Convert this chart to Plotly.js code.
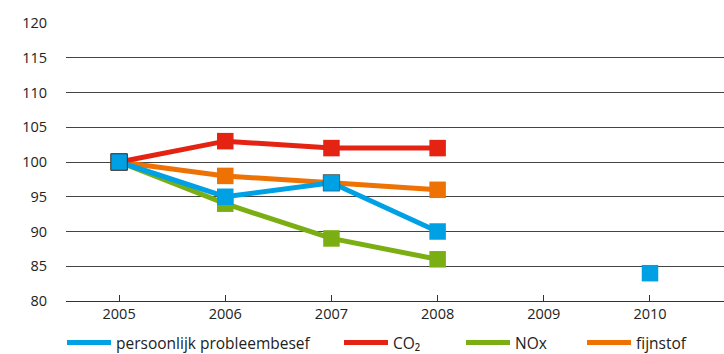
<!DOCTYPE html>
<html>
<head>
<meta charset="utf-8">
<script src="https://cdn.plot.ly/plotly-3.0.1.min.js"></script>
<style>html,body{margin:0;padding:0;background:#fff;}#chart{width:724px;height:354px;}</style>
</head>
<body>
<div id="chart"></div>
<script>
const years = [2005, 2006, 2007, 2008, 2009, 2010];
const seriesNames = ["persoonlijk probleembesef", "CO₂", "NOx", "fijnstof"];
const probleembesef = [100, 95, 97, 90, null, 84];
const co2 = [100, 103, 102, 102, null, null];
const nox = [100, 94, 89, 86, null, null];
const fijnstof = [100, 98, 97, 96, null, null];
const yTicks = [80, 85, 90, 95, 100, 105, 110, 115, 120];

const colors = {blue: "#00a1e4", red: "#e42313", green: "#7aae13", orange: "#ee7203"};

function lineTrace(y, name, color, legendId) {
  return {x: years, y: y, name: name, type: "scatter", mode: "lines", legend: legendId,
    line: {color: color, width: 5}, connectgaps: false, hoverinfo: "skip"};
}
function markerTrace(y, color, outline) {
  return {x: years, y: y, type: "scatter", mode: "markers", showlegend: false,
    marker: {symbol: "square", size: 16.5, color: color,
      line: {color: "#333", width: outline || 0}}, hoverinfo: "skip"};
}

const traces = [
  lineTrace(nox, seriesNames[2], colors.green, "legend3"), markerTrace(nox, colors.green),
  lineTrace(fijnstof, seriesNames[3], colors.orange, "legend4"), markerTrace(fijnstof, colors.orange),
  lineTrace(co2, seriesNames[1], colors.red, "legend2"), markerTrace(co2, colors.red),
  lineTrace(probleembesef, seriesNames[0], colors.blue, "legend"),
  markerTrace(probleembesef, colors.blue, [1, 0, 0.5, 0, 0, 0])
];

const plotW = 658;
function legendAt(px) {
  return {orientation: "h", x: (px - 66) / plotW, xanchor: "left", y: -0.09, yanchor: "top",
    itemwidth: 44,
    font: {size: 15.5, color: "#222"}, bgcolor: "rgba(0,0,0,0)", borderwidth: 0};
}

const layout = {
  width: 724, height: 354,
  margin: {l: 66, r: 0, t: 23, b: 53, autoexpand: false},
  paper_bgcolor: "#fff", plot_bgcolor: "#fff",
  font: {family: "Open Sans, sans-serif", size: 14.5, color: "#222"},
  xaxis: {range: [2004.5, 2010.697], tickvals: years, ticktext: years.map(String),
    showgrid: false, zeroline: false, showline: true, linecolor: "#333", linewidth: 1,
    ticks: "inside", ticklen: 6, tickcolor: "#333", tickwidth: 1, fixedrange: true},
  yaxis: {range: [80, 120], tickvals: yTicks, ticktext: yTicks.map(String),
    showgrid: true, gridcolor: "#444", gridwidth: 1, zeroline: false, showline: false,
    ticks: "", ticklabelstandoff: 18, fixedrange: true},
  showlegend: true,
  legend: legendAt(62),
  legend2: legendAt(339),
  legend3: legendAt(461),
  legend4: legendAt(582)
};

Plotly.newPlot("chart", traces, layout, {displayModeBar: false, staticPlot: true});
</script>
</body>
</html>
